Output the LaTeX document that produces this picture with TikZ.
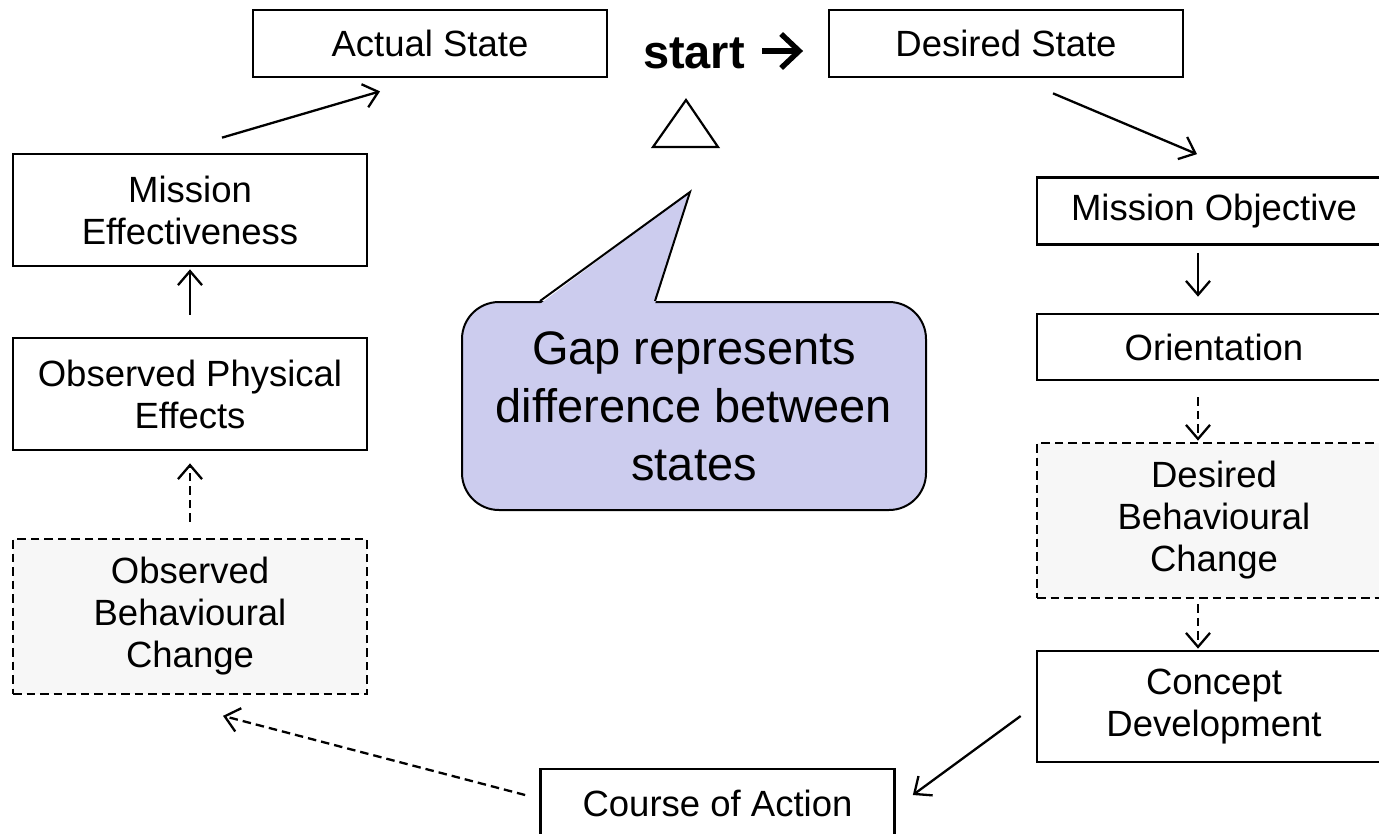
\documentclass[tikz,border=0pt]{standalone}
\usepackage{fontspec}
\setmainfont{Liberation Sans}
\usetikzlibrary{arrows.meta,calc}
\definecolor{callfill}{RGB}{204,204,238}
\definecolor{softgray}{RGB}{247,247,247}
\tikzset{
  box/.style={draw=black, line width=2.7pt, fill=white, inner sep=0pt, align=center,
    minimum width=354pt, font=\fontsize{36.5}{42}\selectfont},
  dbox/.style={box, dash pattern=on 8.5pt off 5pt, fill=softgray},
  conn/.style={line width=2.3pt, -{Straight Barb[length=14pt,width=24pt,line width=2.3pt]}},
  dconn/.style={conn, dash pattern=on 8.5pt off 5pt},
}
\begin{document}
\begin{tikzpicture}[x=1pt,y=-1pt]
\useasboundingbox (0,0) rectangle (1379,833);
\clip (0,0) rectangle (1379,833);
\fill[white] (0,0) rectangle (1379,833);

% top row
\node[box, minimum height=67pt] (AS) at (430,43.5) {Actual State};
\node[box, minimum height=67pt] (DS) at (1006,43.5) {Desired State};
\node[anchor=base, inner sep=0pt, font=\bfseries\fontsize{47}{50}\selectfont] (start) at (694,68) {start};
\draw[line width=5.4pt, line cap=butt] ($(start.base east)+(17,-17)$) -- ($(start.base east)+(52,-17)$);
\draw[line width=5.4pt, line join=miter, line cap=butt] ($(start.base east)+(36,-34)$) -- ($(start.base east)+(54,-17)$) -- ($(start.base east)+(36,0)$);
\draw[line width=2.2pt, line join=miter] (686,100) -- (653,147) -- (718,147) -- cycle;

% left column
\node[box, minimum height=112pt] (ME) at (190,210) {Mission\\Effectiveness};
\node[box, minimum height=112pt] (OPE) at (190,394) {Observed Physical\\Effects};
\node[dbox, minimum height=155pt] (OBC) at (190,616.5) {Observed\\Behavioural\\Change};

% right column
\node[box, minimum height=67pt] (MO) at (1214,211) {Mission Objective};
\node[box, minimum height=66pt] (OR) at (1214,347) {Orientation};
\node[dbox, minimum height=155pt] (DBC) at (1214,520.5) {Desired\\Behavioural\\Change};
\node[box, minimum height=111pt] (CD) at (1214,706.5) {Concept\\Development};

% bottom
\node[box, minimum height=68pt] (CoA) at (717.5,803) {Course of Action};

% callout
\node[draw=black, line width=2pt, fill=callfill, rounded corners=37pt, inner sep=0pt,
  minimum width=464pt, minimum height=208pt, align=center,
  font=\fontsize{47}{58}\selectfont] (gap) at (694,406) {Gap represents\\difference between\\states};
\coordinate (pl) at ($(gap.north)+(-154,0)$);
\coordinate (pr) at ($(gap.north)+(-39,0)$);
\coordinate (tip) at ($(gap.north)+(-4,-109)$);
\fill[callfill] ($(pl)+(0,3)$) -- (tip) -- ($(pr)+(0,3)$) -- cycle;
\draw[line width=2pt, line join=miter] (pl) -- (tip) -- (pr);

% connectors
\draw[conn] ($(ME.north)+(32,-15)$) -- ($(AS.south)+(-50,13)$);
\draw[conn] ($(DS.south)+(47,15)$) -- ($(MO.north)+(-17,-22)$);
\draw[conn] ($(MO.south)+(-16,7)$) -- ($(OR.north)+(-16,-16)$);
\draw[dconn] ($(OR.south)+(-16,16)$) -- ($(DBC.north)+(-16,-1)$);
\draw[dconn] ($(DBC.south)+(-16,5)$) -- ($(CD.north)+(-16,-1)$);
\draw[conn] ($(CD.west)+(-15,9.5)$) -- ($(CoA.east)+(17,-8)$);
\draw[dconn] ($(CoA.west)+(-14,-8)$) -- ($(OBC.south)+(33,20.5)$);
\draw[dconn] ($(OBC.north)+(0,-16)$) -- ($(OPE.south)+(0,12)$);
\draw[conn] ($(OPE.north)+(0,-22)$) -- ($(ME.south)+(0,2)$);
\end{tikzpicture}
\end{document}
